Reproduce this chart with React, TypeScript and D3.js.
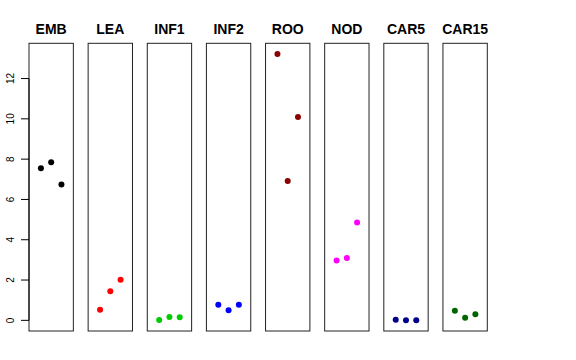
import React from "react";
import * as d3 from "d3";

const categories = ["EMB", "LEA", "INF1", "INF2", "ROO", "NOD", "CAR5", "CAR15"];
const colors = ["#000000", "#FF0000", "#00CD00", "#0000FF", "#8B0000", "#FF00FF", "#00008B", "#006400"];
const replicates = [1, 2, 3];
const valuesEMB = [7.55, 7.85, 6.74];
const valuesLEA = [0.53, 1.45, 2.01];
const valuesINF1 = [0.02, 0.16, 0.15];
const valuesINF2 = [0.77, 0.5, 0.77];
const valuesROO = [13.22, 6.91, 10.09];
const valuesNOD = [2.97, 3.1, 4.86];
const valuesCAR5 = [0.03, 0.0, 0.0];
const valuesCAR15 = [0.48, 0.13, 0.3];
const seriesValues = [valuesEMB, valuesLEA, valuesINF1, valuesINF2, valuesROO, valuesNOD, valuesCAR5, valuesCAR15];
const yTicks = [0, 2, 4, 6, 8, 10, 12];

const W = 576;
const H = 360;
const FONT = "'Liberation Sans', Arial, Helvetica, sans-serif";

export default function App() {
  const all = seriesValues.flat();
  const yMin = d3.min(all) as number;
  const yMax = d3.max(all) as number;
  const pad = (yMax - yMin) * 0.04;
  const y = d3.scaleLinear().domain([yMin - pad, yMax + pad]).range([331, 43.3]);
  const band = d3.scaleBand<string>().domain(categories).range([29, 487.3]).paddingInner(0.25).paddingOuter(0);
  const bw = band.bandwidth();

  return (
    <svg width={W} height={H} style={{ position: "absolute", left: 0, top: 0, background: "#fff" }}>
      <rect x={0} y={0} width={W} height={H} fill="#fff" />
      {categories.map((cat, i) => {
        const left = band(cat) as number;
        const x = d3.scaleLinear().domain([-0.16, 4.16]).range([left, left + bw]);
        return (
          <g key={cat}>
            <rect x={left} y={y.range()[1]} width={bw} height={y.range()[0] - y.range()[1]} fill="none" stroke="#222" strokeWidth={1} />
            <text x={left + bw / 2} y={34} textAnchor="middle" fontFamily={FONT} fontWeight="bold" fontSize={14} fill="#000">
              {cat}
            </text>
            {seriesValues[i].map((v, j) => (
              <circle key={j} cx={x(replicates[j])} cy={y(v)} r={3} fill={colors[i]} />
            ))}
          </g>
        );
      })}
      <g>
        <line x1={29} x2={29} y1={y(0)} y2={y(12)} stroke="#000" strokeWidth={1} />
        {yTicks.map((t) => (
          <g key={t}>
            <line x1={21} x2={29} y1={y(t)} y2={y(t)} stroke="#000" strokeWidth={1} />
            <text
              transform={`translate(${14},${y(t)}) rotate(-90)`}
              textAnchor="middle"
              fontFamily={FONT}
              fontSize={10}
              fill="#000"
            >
              {t}
            </text>
          </g>
        ))}
      </g>
    </svg>
  );
}
